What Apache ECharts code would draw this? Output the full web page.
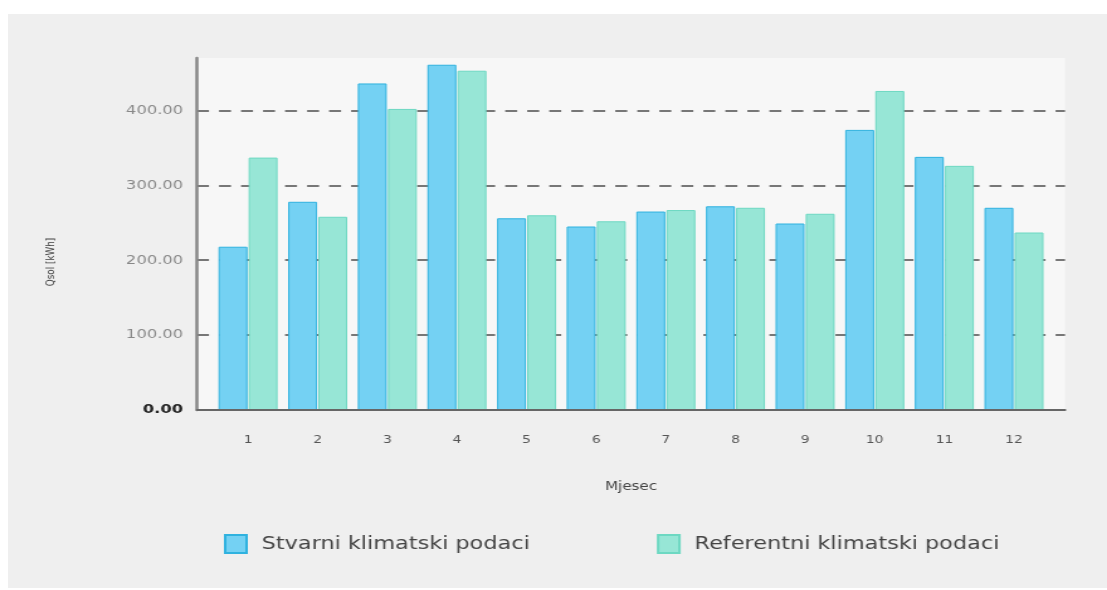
<!DOCTYPE html>
<html>
<head>
<meta charset="utf-8">
<script src="https://cdn.jsdelivr.net/npm/echarts@6/dist/echarts.min.js"></script>
<style>
  html, body { margin: 0; padding: 0; background: #fff; }
  #panel { position: absolute; left: 8px; top: 14px; width: 1099px; height: 574px; background: #efefef; }
  /* the original chart is horizontally stretched, so the chart is drawn narrower and scaled */
  #chart { position: absolute; left: 0; top: 0; width: 880px; height: 590px;
           transform: scaleX(1.258); transform-origin: 0 0; }
</style>
</head>
<body>
<div id="panel"></div>
<div id="chart"></div>
<script>
// podaci
const months = ['1', '2', '3', '4', '5', '6', '7', '8', '9', '10', '11', '12'];
const stvarni = [218, 278, 436, 461, 256, 245, 265, 272, 249, 374, 338, 270];
const referentni = [337, 258, 402, 453, 260, 252, 267, 270, 262, 426, 326, 237];
const seriesNames = ['Stvarni klimatski podaci', 'Referentni klimatski podaci'];
const yMax = 470;
const yStep = 100;

const font = 'DejaVu Sans';
const chart = echarts.init(document.getElementById('chart'));

chart.setOption({
  animation: false,
  textStyle: { fontFamily: font },
  grid: [
    // plot area with background, axis lines, grid lines
    { left: 156.6, right: 33.4, top: 58, bottom: 180, show: true,
      backgroundColor: '#f7f7f7', borderWidth: 0 },
    // inner area where the bars sit
    { left: 169.5, right: 46.3, top: 58, bottom: 180 }
  ],
  legend: {
    top: 534,
    left: 178,
    padding: 0,
    itemWidth: 17,
    itemHeight: 18,
    itemGap: 101,
    icon: 'rect',
    textStyle: { fontSize: 17.8, color: '#444', padding: [0, 0, 0, 7], fontFamily: font },
    data: seriesNames
  },
  xAxis: [
    {
      gridIndex: 0, type: 'category', data: months, z: 3,
      axisLine: { lineStyle: { color: '#666', width: 2 } },
      axisTick: { show: false }, axisLabel: { show: false },
      name: 'Mjesec', nameLocation: 'middle', nameGap: 71,
      nameTextStyle: { fontSize: 12, color: '#444', fontFamily: font }
    },
    {
      gridIndex: 1, type: 'category', data: months,
      axisLine: { show: false }, axisTick: { show: false },
      axisLabel: { margin: 25, fontSize: 11, color: '#555', fontFamily: font }
    }
  ],
  yAxis: [
    {
      gridIndex: 0, type: 'value', min: 0, max: yMax, interval: yStep,
      name: 'Qsol [kWh]', nameLocation: 'middle', nameGap: 111, nameRotate: 90,
      nameTextStyle: { fontSize: 8.8, color: '#444', fontFamily: font, padding: [0, 56, 0, 0] },
      axisLine: { show: true, lineStyle: { color: '#888', width: 2.5 } },
      axisTick: { show: false },
      axisLabel: {
        margin: 11,
        showMaxLabel: false,
        formatter: v => v === 0 ? '{zero|0.00}' : v.toFixed(2),
        fontSize: 13, color: '#888', fontFamily: font,
        rich: { zero: { fontSize: 13, fontWeight: 'bold', color: '#222', fontFamily: font } }
      },
      splitLine: { show: true, showMaxLine: false,
        lineStyle: { color: '#777', width: 2, type: [9.5, 8] } }
    },
    {
      gridIndex: 1, type: 'value', min: 0, max: yMax, interval: yStep, show: false,
      splitLine: { show: false }
    }
  ],
  series: [
    {
      name: seriesNames[0], type: 'bar', xAxisIndex: 1, yAxisIndex: 1,
      data: stvarni, barWidth: 23, barGap: '4%',
      itemStyle: { color: '#74d1f3', borderColor: '#2fb2df', borderWidth: 1 }
    },
    {
      name: seriesNames[1], type: 'bar', xAxisIndex: 1, yAxisIndex: 1,
      data: referentni, barWidth: 23,
      itemStyle: { color: '#97e6d6', borderColor: '#6dd8c2', borderWidth: 1 }
    }
  ]
});
</script>
</body>
</html>
